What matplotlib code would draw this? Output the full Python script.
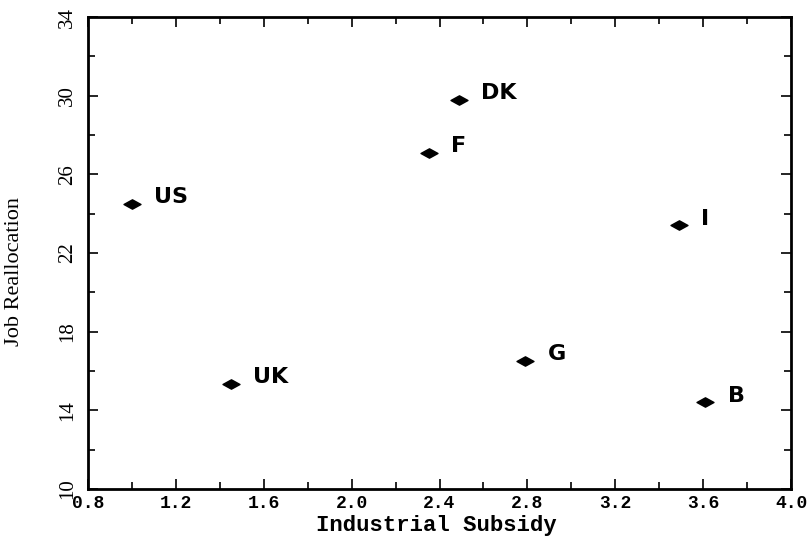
import numpy as np
import matplotlib
matplotlib.use("Agg")
import matplotlib.pyplot as plt
from matplotlib.path import Path
from matplotlib.ticker import MultipleLocator

# industrial subsidy vs job reallocation by country
countries = ["US", "UK", "F", "DK", "G", "I", "B"]
subsidy = [1.0, 1.45, 2.35, 2.49, 2.79, 3.49, 3.61]
realloc = [24.5, 15.35, 27.1, 29.8, 16.5, 23.4, 14.4]

x_ticks = [0.8, 1.2, 1.6, 2.0, 2.4, 2.8, 3.2, 3.6, 4.0]
y_ticks = [10, 14, 18, 22, 26, 30, 34]

# flat diamond marker
diamond = Path([(-1, 0), (0, 0.55), (1, 0), (0, -0.55), (-1, 0)],
               [Path.MOVETO, Path.LINETO, Path.LINETO, Path.LINETO, Path.CLOSEPOLY])

fig = plt.figure(figsize=(8.1, 5.39), dpi=100)
ax = fig.add_axes([88 / 810, 1 - 489 / 539, (791 - 88) / 810, (489 - 17) / 539])

ax.scatter(subsidy, realloc, marker=diamond, s=150, color="black", zorder=3)
for name, x, y in zip(countries, subsidy, realloc):
    ax.annotate(name, (x, y), xytext=(16, 5), textcoords="offset points",
                ha="left", va="center", fontsize=16, fontweight="heavy",
                family="DejaVu Sans")

ax.set_xlim(0.8, 4.0)
ax.set_ylim(10, 34)
ax.set_xticks(x_ticks)
ax.set_xticklabels([f"{v:.1f}" for v in x_ticks], family="Liberation Mono",
                   fontweight="bold")
ax.set_yticks(y_ticks)
ax.set_yticklabels([str(v) for v in y_ticks], family="Liberation Serif",
                   rotation=90, va="center")
ax.xaxis.set_minor_locator(MultipleLocator(0.2))
ax.yaxis.set_minor_locator(MultipleLocator(2))

ax.tick_params(which="both", direction="in", top=True, right=True, width=1.2)
ax.tick_params(which="major", length=7)
ax.tick_params(which="minor", length=5)
ax.tick_params(axis="x", pad=4, labelsize=13)
ax.tick_params(axis="y", pad=8, labelsize=15)
for sp in ax.spines.values():
    sp.set_linewidth(2)

ax.set_xlabel("Industrial Subsidy", family="Liberation Mono", fontweight="bold",
              fontsize=16)
ax.xaxis.set_label_coords(0.495, -0.055)
ax.set_ylabel("Job Reallocation", family="Liberation Serif", fontsize=16)
ax.yaxis.set_label_coords(-0.091, 0.46)

fig.savefig("out.png", dpi=100)
